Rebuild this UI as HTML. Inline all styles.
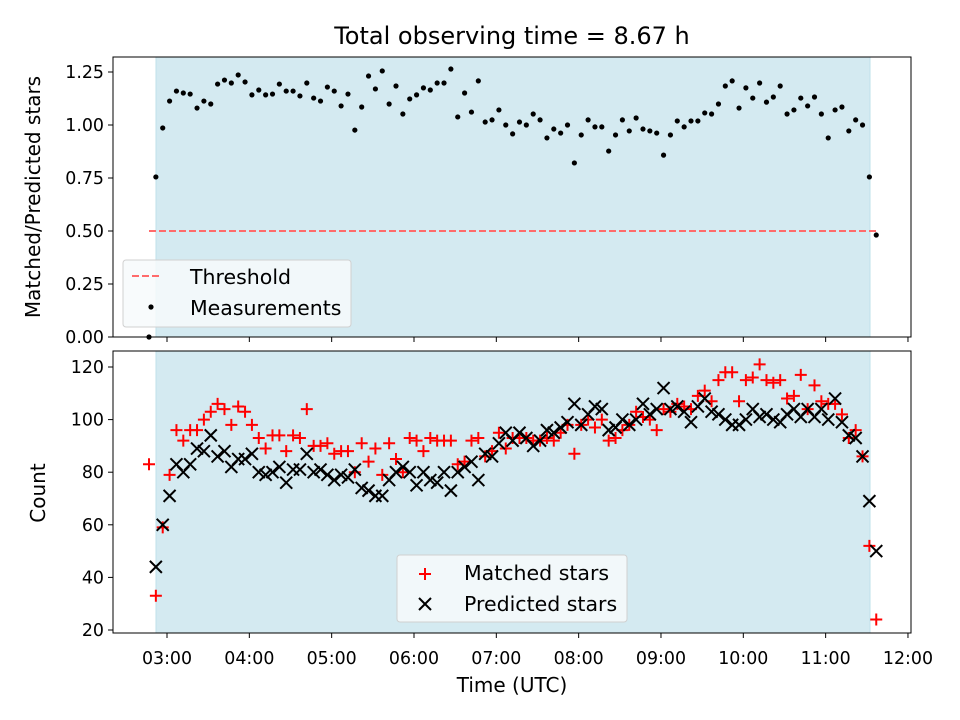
<!DOCTYPE html>
<html><head><meta charset="utf-8"><style>
body{margin:0;background:#fff}
svg{display:block;font-family:"DejaVu Sans","Liberation Sans",sans-serif}
</style></head><body>
<svg id="chart" width="960" height="720" viewBox="0 0 960 720" xmlns="http://www.w3.org/2000/svg">
<rect width="960" height="720" fill="#fff"/>
<text x="512" y="44" font-size="24" text-anchor="middle">Total observing time = 8.67 h</text>
<g id="top"></g><g id="bot"></g>
<text transform="translate(40,197) rotate(-90)" font-size="20" text-anchor="middle">Matched/Predicted stars</text>
<text transform="translate(45,493) rotate(-90)" font-size="20" text-anchor="middle">Count</text>
<text x="512" y="692" font-size="20" text-anchor="middle">Time (UTC)</text>
</svg>
<script>
const startHour = 2.7814;
const stepMin = 5;
const ratioValues = [0,0.755,0.986,1.113,1.160,1.151,1.146,1.080,1.113,1.099,1.193,1.212,1.198,1.236,1.203,1.142,1.165,1.142,1.146,1.193,1.160,1.160,1.137,1.198,1.127,1.113,1.179,1.160,1.090,1.146,0.976,1.085,1.231,1.170,1.255,1.099,1.184,1.052,1.123,1.142,1.175,1.165,1.198,1.198,1.264,1.038,1.151,1.061,1.208,1.014,1.024,1.071,1.000,0.958,1.014,1.000,1.052,1.024,0.939,0.981,0.962,1.000,0.821,0.953,1.024,0.991,0.991,0.877,0.953,1.024,0.972,1.033,0.981,0.972,0.962,0.858,0.953,1.019,0.991,1.019,1.019,1.057,1.052,1.099,1.184,1.208,1.080,1.175,1.127,1.198,1.108,1.132,1.184,1.052,1.071,1.127,1.090,1.132,1.052,0.939,1.071,1.085,0.972,1.024,1.000,0.755,0.481];
const matchedValues = [83,33,59,79,96,92,96,96,100,103,106,104,98,105,103,98,93,89,94,94,88,94,93,104,90,90,91,87,88,88,80,91,84,89,79,91,85,80,93,92,88,93,92,92,92,83,84,92,93,86,88,95,89,93,93,93,92,92,93,92,95,98,87,98,100,97,100,92,93,96,98,103,101,100,96,104,103,106,105,104,109,111,107,115,118,118,107,115,116,121,115,114,115,108,109,117,104,113,107,106,106,102,93,96,86,52,24];
const predictedValues = [null,44,60,71,83,80,83,89,88,94,86,88,82,85,85,87,80,79,80,82,76,81,81,87,80,81,79,77,79,78,81,74,73,71,71,77,80,82,80,75,80,77,76,80,73,80,82,84,77,87,86,91,95,92,95,93,90,92,96,95,97,99,106,98,102,105,104,96,97,100,98,100,106,102,104,112,104,105,103,99,105,108,103,102,100,98,98,100,104,101,102,100,99,102,104,101,104,101,104,100,108,99,94,93,86,69,50];
const xTickLabels = ["03:00","04:00","05:00","06:00","07:00","08:00","09:00","10:00","11:00","12:00"];
const xTickHours = [3,4,5,6,7,8,9,10,11,12];
const topYTicks = [0,0.25,0.5,0.75,1.0,1.25];
const topYTickLabels = ["0.00","0.25","0.50","0.75","1.00","1.25"];
const botYTicks = [20,40,60,80,100,120];
const threshold = 0.5;
const obsStartHour = 2.8664, obsEndHour = 11.5389;

const NS="http://www.w3.org/2000/svg";
const L=113,R=911;
const FT=17.4, FL=20.5;
const xs=h=>167+(h-3)*82.33;
const yTop=v=>337-v*212;
const yBot=v=>630-(v-20)*2.63;
function mk(tag,attrs,parent){const e=document.createElementNS(NS,tag);for(const k in attrs)e.setAttribute(k,attrs[k]);parent.appendChild(e);return e;}
const times=ratioValues.map((_,i)=>startHour+i*stepMin/60);

function panel(g,y0,y1,name){
  let r=mk('rect',{x:L,y:y0,width:R-L,height:y1-y0,fill:'#fff'},g);
  
  let s=mk('rect',{x:xs(obsStartHour),y:y0,width:xs(obsEndHour)-xs(obsStartHour),height:y1-y0,fill:'#d4eaf1',stroke:'#bfe0ea','stroke-width':1},g);
  
  xTickHours.forEach((h,i)=>{const t=mk('line',{x1:xs(h),x2:xs(h),y1:y1,y2:y1+5,stroke:'#000','stroke-width':1},g);
    });
}
function frame(g,y0,y1,name){
  const f=mk('rect',{x:L,y:y0,width:R-L,height:y1-y0,fill:'none',stroke:'#000','stroke-width':1},g);
  
}
const gt=document.getElementById('top');
panel(gt,57,337,'top');
topYTicks.forEach((v,i)=>{
  const t=mk('line',{x1:L-5,x2:L,y1:yTop(v),y2:yTop(v),stroke:'#000'},gt);
  
  const tx=mk('text',{x:L-9,y:yTop(v)+6,'font-size':FT,'text-anchor':'end'},gt);tx.textContent=topYTickLabels[i];
  
});
const th=mk('line',{x1:xs(times[0]),x2:xs(times[times.length-1]),y1:yTop(threshold),y2:yTop(threshold),stroke:'#ff6b6b','stroke-width':2,'stroke-dasharray':'7,3'},gt);

ratioValues.forEach((v,i)=>{const c=mk('circle',{cx:xs(times[i]),cy:yTop(v),r:2.6,fill:'#000'},gt);
  });
frame(gt,57,337,'top');
const lg=mk('g',{},gt);
mk('rect',{x:123,y:260,width:228,height:67,rx:3,fill:'#f7fafc','fill-opacity':0.85,stroke:'#d0d0d0'},lg);
mk('line',{x1:132,x2:160,y1:276,y2:276,stroke:'#ff6b6b','stroke-width':2,'stroke-dasharray':'7,3'},lg);
let t1=mk('text',{x:190,y:284,'font-size':FL},lg);t1.textContent='Threshold';

mk('circle',{cx:151,cy:307,r:2.6,fill:'#000'},lg);
let t2=mk('text',{x:190,y:315,'font-size':FL},lg);t2.textContent='Measurements';


const gb=document.getElementById('bot');
panel(gb,351,633,'bottom');
botYTicks.forEach(v=>{
  const t=mk('line',{x1:L-5,x2:L,y1:yBot(v),y2:yBot(v),stroke:'#000'},gb);
  
  const tx=mk('text',{x:L-9,y:yBot(v)+6,'font-size':FT,'text-anchor':'end'},gb);tx.textContent=v;
  
});
xTickHours.forEach((h,i)=>{const tx=mk('text',{x:xs(h),y:664,'font-size':FT,'text-anchor':'middle'},gb);tx.textContent=xTickLabels[i];
  });
function plus(g,x,y){return mk('path',{d:`M${x-6} ${y}H${x+6}M${x} ${y-6}V${y+6}`,stroke:'#ff0000','stroke-width':2},g);}
function cross(g,x,y){return mk('path',{d:`M${x-6} ${y-6}L${x+6} ${y+6}M${x-6} ${y+6}L${x+6} ${y-6}`,stroke:'#000','stroke-width':2},g);}
matchedValues.forEach((v,i)=>{if(v==null)return;const p=plus(gb,xs(times[i]),yBot(v));
  });
predictedValues.forEach((v,i)=>{if(v==null)return;const p=cross(gb,xs(times[i]),yBot(v));
  });
frame(gb,351,633,'bottom');
const lb=mk('g',{},gb);
mk('rect',{x:397,y:555,width:230,height:67,rx:3,fill:'#f7fafc','fill-opacity':0.85,stroke:'#d0d0d0'},lb);
plus(lb,425,574);
let t3=mk('text',{x:464,y:580,'font-size':FL},lb);t3.textContent='Matched stars';

cross(lb,425,604);
let t4=mk('text',{x:464,y:611,'font-size':FL},lb);t4.textContent='Predicted stars';

</script>
</body></html>
